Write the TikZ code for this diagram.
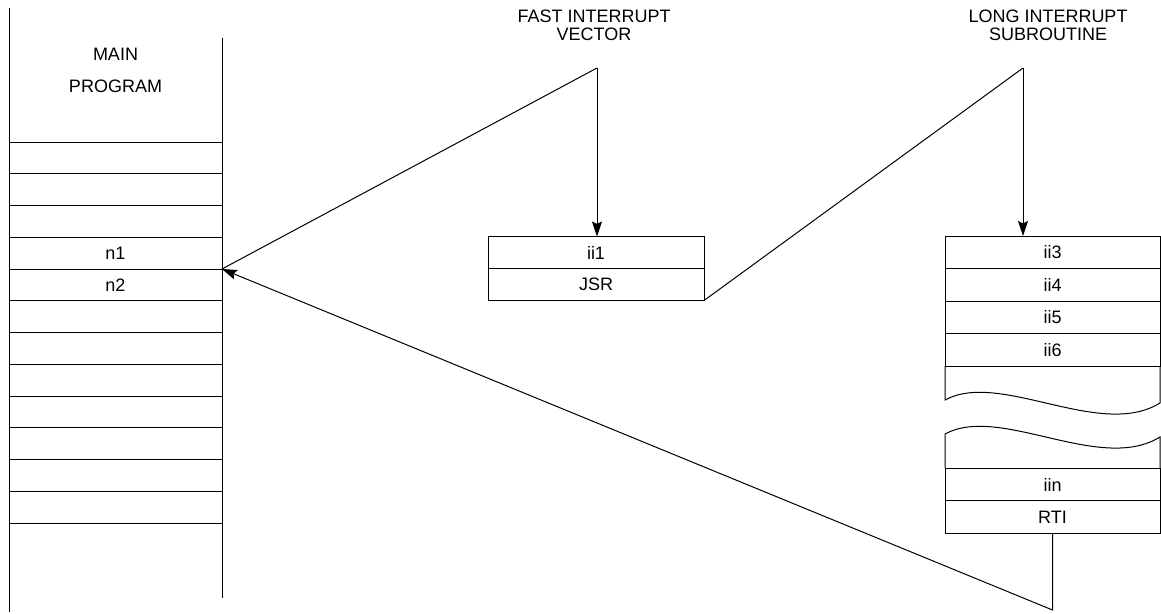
\documentclass[tikz,border=0pt]{standalone}
\usepackage{fontspec}
\setmainfont{Liberation Sans}
\usetikzlibrary{arrows.meta, positioning, calc}

\begin{document}
\begin{tikzpicture}[
  x=1pt, y=-1pt,
  node distance=0pt,
  every node/.style={font=\fontsize{18}{18}\selectfont},
  cell/.style={rectangle, draw, line width=1pt, outer sep=0pt, inner sep=0pt,
               minimum height=31.75pt, minimum width=213pt},
  fastcell/.style={cell, minimum width=216pt, minimum height=32pt},
  longcell/.style={cell, minimum width=215pt, minimum height=32.5pt},
  title/.style={align=center, inner sep=0pt, anchor=north},
  link/.style={line width=1pt},
  arrow/.style={-{Stealth[length=15pt, width=10pt, inset=2.5pt]}, line width=1pt}
]
  \useasboundingbox (0,0) rectangle (1161,613);

  % main program column
  \draw[link] (9,8) -- (9,612);
  \draw[link] (222,38) -- (222,598);
  \node[title, font=\fontsize{18}{32}\selectfont] (main) at (115.5,48) {MAIN\\PROGRAM};
  \foreach \i/\txt in {1/,2/,3/,4/n1,5/n2,6/,7/,8/,9/,10/,11/,12/}
    \node[cell] (m\i) at (115.5,{142+31.75*(\i-0.5)}) {\txt};

  % fast interrupt vector
  \node[title] (fasttitle) at (594,10) {FAST INTERRUPT\\VECTOR};
  \node[fastcell] (ii1) at (596,252.5) {ii1};
  \node[fastcell, below=of ii1] (jsr) {JSR};

  % long interrupt subroutine
  \node[title] (longtitle) at (1048,10) {LONG INTERRUPT\\SUBROUTINE};
  \node[longcell] (ii3) at (1052.5,252.25) {ii3};
  \node[longcell, below=of ii3] (ii4) {ii4};
  \node[longcell, below=of ii4] (ii5) {ii5};
  \node[longcell, below=of ii5] (ii6) {ii6};
  \node[longcell] (iin) at (1052.5,484.5) {iin};
  \node[longcell, below=of iin] (rti) {RTI};

  % break in the subroutine
  \draw[link] (ii6.south west) -- (945,400)
    .. controls (1000,370) and (1100,440) .. (1160,403) -- (ii6.south east);
  \draw[link] (iin.north west) -- (945,434)
    .. controls (1000,404) and (1100,474) .. (1160,437) -- (iin.north east);

  % connectors
  \coordinate (fastin) at (597,68);
  \coordinate (longin) at (1023,68);
  \coordinate (retbend) at (1053,610);
  \draw[link] (m4.south east) -- (fastin);
  \draw[arrow] (fastin) -- (fastin |- ii1.north);
  \draw[link] (jsr.south east) -- (longin);
  \draw[arrow] (longin) -- (longin |- ii3.north);
  \draw[arrow] (rti.south) -- (rti.south |- retbend) -- (m4.south east);
\end{tikzpicture}
\end{document}
